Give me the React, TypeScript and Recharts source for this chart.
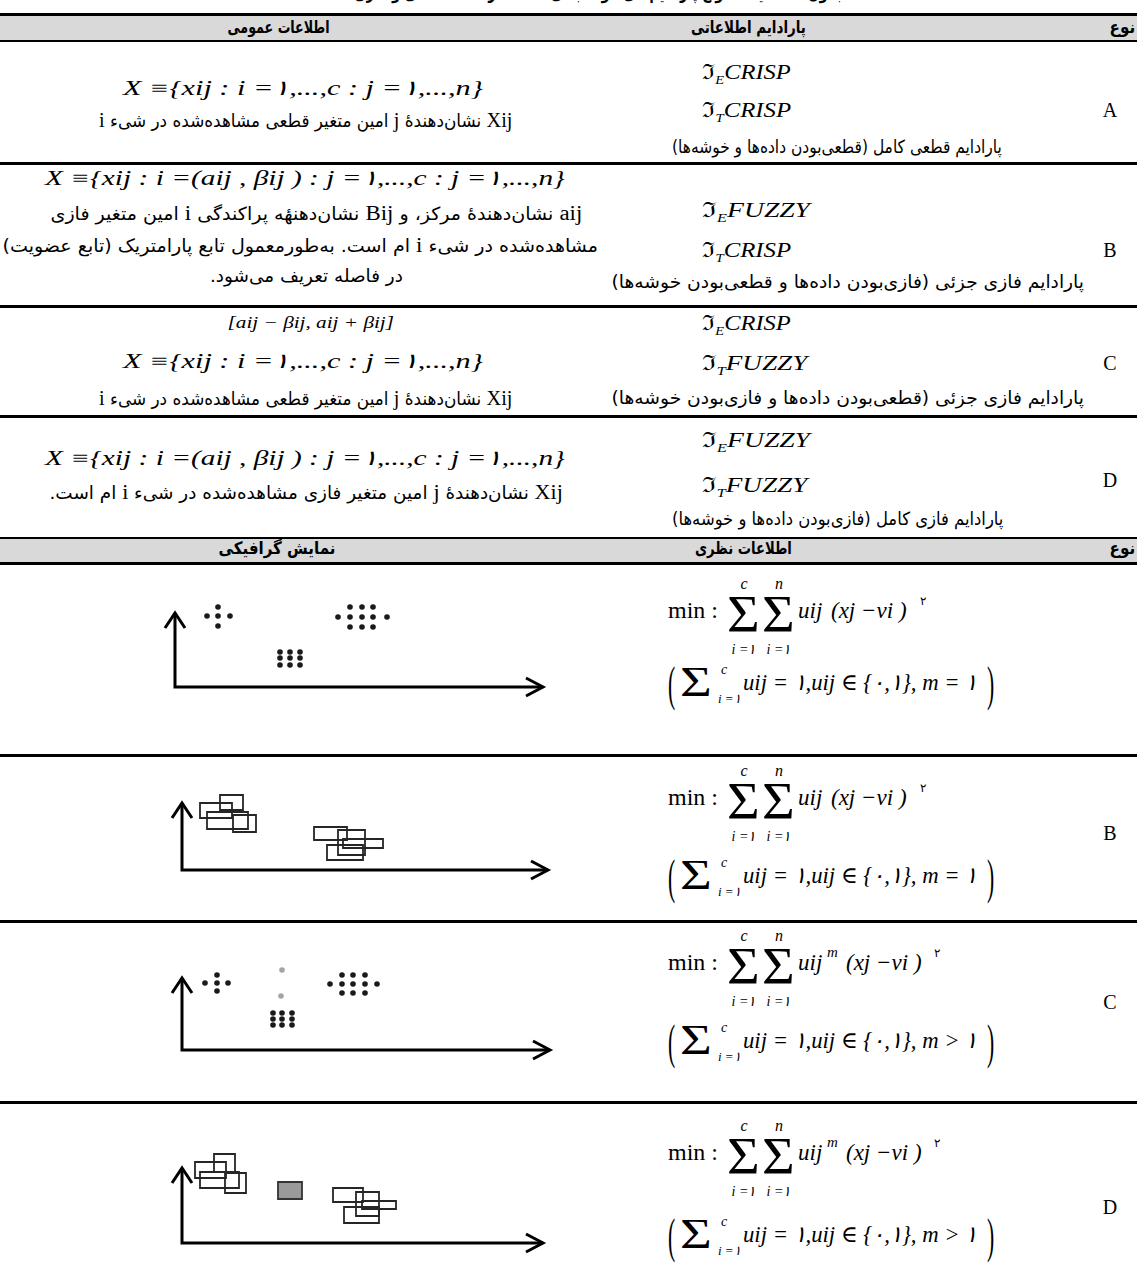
import React, { useLayoutEffect, useRef, useState } from 'react';
import { ScatterChart, Scatter, XAxis, YAxis, ReferenceArea } from 'recharts';

// ---------- data ----------
const titleText = 'جدول ۲- مقایسهٔ انواع پارادایم‌های خوشه‌بندی داده‌ها در حالت قطعی و فازی';
const headerTop = ['نوع', 'پارادایم اطلاعاتی', 'اطلاعات عمومی'];
const headerBottom = ['نوع', 'اطلاعات نظری', 'نمایش گرافیکی'];
const typeLabels = ['A', 'B', 'C', 'D'];
const dataModes = ['CRISP', 'FUZZY', 'CRISP', 'FUZZY'];
const clusterModes = ['CRISP', 'CRISP', 'FUZZY', 'FUZZY'];
const paradigmCaptions = [
  'پارادایم قطعی کامل (قطعی‌بودن داده‌ها و خوشه‌ها)',
  'پارادایم فازی جزئی (فازی‌بودن داده‌ها و قطعی‌بودن خوشه‌ها)',
  'پارادایم فازی جزئی (قطعی‌بودن داده‌ها و فازی‌بودن خوشه‌ها)',
  'پارادایم فازی کامل (فازی‌بودن داده‌ها و خوشه‌ها)',
];
const setCrisp = 'X ≡{xij : i =۱,...,c : j =۱,...,n}';
const setFuzzy = 'X ≡{xij : i =(aij , βij ) : j =۱,...,c : j =۱,...,n}';
const intervalText = '[aij − βij, aij + βij]';
const membershipExp = ['', '', 'm', 'm'];
const membershipRel = ['=', '=', '>', '>'];

type P = { x: number; y: number; head?: string };
type R = { x1: number; x2: number; y1: number; y2: number };

const axisA: P[] = [{ x: 0, y: 74, head: 'up' }, { x: 0, y: 0 }, { x: 368, y: 0, head: 'right' }];
const crossA: P[] = [{ x: 43, y: 80 }, { x: 32, y: 71 }, { x: 43, y: 71 }, { x: 55, y: 71 }, { x: 43, y: 61 }];
const gridA: P[] = [
  { x: 105, y: 35 }, { x: 115, y: 35 }, { x: 125, y: 35 },
  { x: 105, y: 29 }, { x: 115, y: 29 }, { x: 125, y: 29 },
  { x: 105, y: 22 }, { x: 115, y: 22 }, { x: 125, y: 22 },
];
const starA: P[] = [
  { x: 175, y: 80 }, { x: 187, y: 80 }, { x: 198, y: 80 },
  { x: 163, y: 70 }, { x: 175, y: 70 }, { x: 187, y: 70 }, { x: 198, y: 70 }, { x: 212, y: 70 },
  { x: 175, y: 60 }, { x: 187, y: 60 }, { x: 198, y: 60 },
];

const axisB: P[] = [{ x: 0, y: 67, head: 'up' }, { x: 0, y: 0 }, { x: 366, y: 0, head: 'right' }];
const rectsB: R[] = [
  { x1: 18, x2: 50, y1: 52, y2: 67 },
  { x1: 38, x2: 61, y1: 60, y2: 75 },
  { x1: 25, x2: 66, y1: 41, y2: 58 },
  { x1: 51, x2: 74, y1: 38, y2: 55 },
  { x1: 132, x2: 165, y1: 30, y2: 43 },
  { x1: 156, x2: 183, y1: 15, y2: 40 },
  { x1: 161, x2: 201, y1: 22, y2: 31 },
  { x1: 145, x2: 181, y1: 10, y2: 25 },
];

const axisC: P[] = [{ x: 0, y: 72, head: 'up' }, { x: 0, y: 0 }, { x: 368, y: 0, head: 'right' }];
const crossC: P[] = [{ x: 35, y: 75 }, { x: 23, y: 67 }, { x: 35, y: 67 }, { x: 46, y: 67 }, { x: 35, y: 59 }];
const gridC: P[] = [
  { x: 91, y: 37 }, { x: 100, y: 37 }, { x: 110, y: 37 },
  { x: 91, y: 31 }, { x: 100, y: 31 }, { x: 110, y: 31 },
  { x: 91, y: 25 }, { x: 100, y: 25 }, { x: 110, y: 25 },
];
const starC: P[] = [
  { x: 160, y: 75 }, { x: 171, y: 75 }, { x: 183, y: 75 },
  { x: 148, y: 66 }, { x: 160, y: 66 }, { x: 171, y: 66 }, { x: 183, y: 66 }, { x: 195, y: 66 },
  { x: 160, y: 57 }, { x: 171, y: 57 }, { x: 183, y: 57 },
];
const sharedC: P[] = [{ x: 100, y: 80 }, { x: 99, y: 54 }];

const axisD: P[] = [{ x: 0, y: 75, head: 'up' }, { x: 0, y: 0 }, { x: 361, y: 0, head: 'right' }];
const rectsD: R[] = [
  { x1: 13, x2: 44, y1: 65, y2: 81 },
  { x1: 32, x2: 53, y1: 71, y2: 89 },
  { x1: 18, x2: 57, y1: 55, y2: 71 },
  { x1: 43, x2: 64, y1: 50, y2: 70 },
  { x1: 151, x2: 181, y1: 41, y2: 55 },
  { x1: 174, x2: 197, y1: 27, y2: 51 },
  { x1: 180, x2: 214, y1: 34, y2: 42 },
  { x1: 162, x2: 197, y1: 20, y2: 36 },
];
const sharedD: R[] = [{ x1: 96, x2: 120, y1: 44, y2: 61 }];

// ---------- helpers ----------
const PERSIAN = "'DejaVu Sans', sans-serif";
const SERIF = "'Liberation Serif', 'DejaVu Serif', serif";

type TProps = {
  x: number; y: number; size: number; font?: string; italic?: boolean; weight?: number;
  anchor?: 'start' | 'middle' | 'end'; w?: number; sx?: number; dir?: 'ltr' | 'rtl'; children: React.ReactNode;
};
function T({ x, y, size, font = SERIF, italic = false, weight = 400, anchor = 'start', w, sx, dir = 'ltr', children }: TProps) {
  const ref = useRef<HTMLSpanElement>(null);
  const [s, setS] = useState(sx ?? 1);
  useLayoutEffect(() => {
    if (w && ref.current) {
      const n = ref.current.offsetWidth;
      if (n > 0) setS(w / n);
    }
  }, [w]);
  const box: React.CSSProperties = { position: 'absolute', top: y - 0.84 * size, height: size, display: 'flex', alignItems: 'flex-start', pointerEvents: 'none' };
  if (anchor === 'start') { box.left = x; box.justifyContent = 'flex-start'; }
  else if (anchor === 'end') { box.left = x - 1200; box.width = 1200; box.justifyContent = 'flex-end'; }
  else { box.left = x - 600; box.width = 1200; box.justifyContent = 'center'; }
  const origin = anchor === 'start' ? 'left' : anchor === 'end' ? 'right' : 'center';
  return (
    <div style={box}>
      <span ref={ref} dir={dir} style={{ display: 'inline-block', whiteSpace: 'nowrap', fontSize: size, lineHeight: 1, fontFamily: font, fontStyle: italic ? 'italic' : 'normal', fontWeight: weight, color: '#000', transform: `scaleX(${s})`, transformOrigin: origin }}>{children}</span>
    </div>
  );
}

// Persian text line, given visual centre
function Fa({ cx, cy, w, size = 18, bold = false, children }: { cx: number; cy: number; w: number; size?: number; bold?: boolean; children: React.ReactNode }) {
  return <T x={cx} y={cy + 0.3 * size} size={size} font={PERSIAN} weight={bold ? 700 : 400} anchor="middle" w={w} dir="rtl">{children}</T>;
}
const L = ({ children }: { children: React.ReactNode }) => <span style={{ fontFamily: "'Liberation Serif', serif", fontSize: '1.2em' }}>{children}</span>;

function Frak({ x, cy, sub, word, w }: { x: number; cy: number; sub: string; word: string; w: number }) {
  return (
    <T x={x} y={cy + 7} size={22} italic w={w}>
      <span style={{ fontStyle: 'normal', fontFamily: "'DejaVu Serif', serif", fontSize: 21 }}>ℑ</span>
      <span style={{ fontSize: 13, position: 'relative', top: 5 }}>{sub}</span>
      {word}
    </T>
  );
}

function SumFormula({ x0, base, exp }: { x0: number; base: number; exp: string }) {
  return (
    <>
      <T x={x0} y={base} size={24}>min :</T>
      <T x={x0 + 59} y={base + 15} size={52} sx={1.08}>Σ</T>
      <T x={x0 + 94} y={base + 15} size={52} sx={1.08}>Σ</T>
      <T x={x0 + 76} y={base - 29} size={16} italic anchor="middle">c</T>
      <T x={x0 + 111} y={base - 29} size={16} italic anchor="middle">n</T>
      <T x={x0 + 76} y={base + 37} size={14} italic anchor="middle">i =۱</T>
      <T x={x0 + 111} y={base + 37} size={14} italic anchor="middle">i =۱</T>
      <T x={x0 + 130} y={base} size={23} italic>uij</T>
      {exp ? (
        <>
          <T x={x0 + 159} y={base - 12} size={15} italic>{exp}</T>
          <T x={x0 + 178} y={base} size={23} italic>(xj −vi )</T>
          <T x={x0 + 266} y={base - 13} size={12}>۲</T>
        </>
      ) : (
        <>
          <T x={x0 + 163} y={base} size={23} italic>(xj −vi )</T>
          <T x={x0 + 252} y={base - 13} size={12}>۲</T>
        </>
      )}
    </>
  );
}

function ParenFormula({ x0, base, rel }: { x0: number; base: number; rel: string }) {
  return (
    <>
      <T x={x0} y={base + 10} size={48} sx={0.45}>(</T>
      <T x={x0 + 12} y={base + 6} size={42} sx={1.3}>Σ</T>
      <T x={x0 + 53} y={base - 15} size={14} italic>c</T>
      <T x={x0 + 50} y={base + 13} size={13} italic>i =۱</T>
      <T x={x0 + 75} y={base} size={23} italic w={234}>{`uij = ۱,uij ∈ {۰,۱}, m ${rel} ۱`}</T>
      <T x={x0 + 319} y={base + 10} size={48} sx={0.45}>)</T>
    </>
  );
}

function Dot(props: any) {
  const { cx, cy, fill } = props;
  if (cx == null || cy == null) return <g />;
  return <circle cx={cx} cy={cy} r={2.8} fill={fill} />;
}
function Head(props: any) {
  const { cx, cy, payload } = props;
  if (payload?.head === 'up') return <path d={`M${cx - 10},${cy + 15}L${cx},${cy}L${cx + 10},${cy + 15}`} stroke="#000" strokeWidth={3} fill="none" />;
  if (payload?.head === 'right') return <path d={`M${cx - 17},${cy - 9}L${cx},${cy}L${cx - 17},${cy + 9}`} stroke="#000" strokeWidth={3} fill="none" />;
  return <g />;
}

function Panel({ ox, oy, axis, dots = [], grey = [], rects = [], filled = [] }: { ox: number; oy: number; axis: P[]; dots?: P[][]; grey?: P[]; rects?: R[]; filled?: R[] }) {
  return (
    <div style={{ position: 'absolute', left: ox - 20, top: oy - 105 }}>
      <ScatterChart width={420} height={130} margin={{ top: 0, right: 0, bottom: 0, left: 0 }}>
        <XAxis type="number" dataKey="x" domain={[-20, 400]} hide allowDataOverflow />
        <YAxis type="number" dataKey="y" domain={[-25, 105]} hide allowDataOverflow />
        {rects.map((r, i) => (
          <ReferenceArea key={'r' + i} x1={r.x1} x2={r.x2} y1={r.y1} y2={r.y2} fill="none" fillOpacity={0} stroke="#262626" strokeWidth={1.8} />
        ))}
        {filled.map((r, i) => (
          <ReferenceArea key={'f' + i} x1={r.x1} x2={r.x2} y1={r.y1} y2={r.y2} fill="#9a9a9a" fillOpacity={1} stroke="#333" strokeWidth={1.8} />
        ))}
        <Scatter data={axis} line={{ stroke: '#000', strokeWidth: 3 }} shape={Head} isAnimationActive={false} />
        {dots.map((d, i) => (
          <Scatter key={'d' + i} data={d} fill="#1a1a1a" shape={Dot} isAnimationActive={false} />
        ))}
        {grey.length > 0 && <Scatter data={grey} fill="#a5a5a5" shape={Dot} isAnimationActive={false} />}
      </ScatterChart>
    </div>
  );
}

const hLines: [number, number][] = [[13, 3], [40, 2], [162, 3], [305, 3], [415, 3], [537, 2], [562, 3], [754, 3], [920, 3], [1101, 3]];
const bands: [number, number][] = [[16, 40], [539, 562]];

export default function App() {
  return (
    <div style={{ position: 'absolute', left: 0, top: 0, width: 1137, height: 1286, overflow: 'hidden', background: '#fff' }}>
      {bands.map(([a, b], i) => (
        <div key={'b' + i} style={{ position: 'absolute', left: 0, width: 1137, top: a, height: b - a, background: '#d9d9d9' }} />
      ))}
      {hLines.map(([y, t], i) => (
        <div key={'l' + i} style={{ position: 'absolute', left: 0, width: 1137, top: y, height: t, background: '#000' }} />
      ))}

      <Fa cx={600} cy={-6} w={490} size={18} bold>{titleText}</Fa>

      {/* header 1 */}
      <Fa cx={1122} cy={28} w={26} size={17} bold>{headerTop[0]}</Fa>
      <Fa cx={748} cy={28} w={115} size={17} bold>{headerTop[1]}</Fa>
      <Fa cx={279} cy={28} w={102} size={17} bold>{headerTop[2]}</Fa>

      {/* row A */}
      <Frak x={702} cy={72} sub="E" word={dataModes[0]} w={89} />
      <Frak x={702} cy={110} sub="T" word={clusterModes[0]} w={89} />
      <Fa cx={837} cy={148} w={330}>{paradigmCaptions[0]}</Fa>
      <T x={303} y={96} size={21} italic anchor="middle" w={360}>{setCrisp}</T>
      <Fa cx={306} cy={120} w={413}><L>Xij</L> نشان‌دهندهٔ <L>j</L> امین متغیر قطعی مشاهده‌شده در شیء <L>i</L></Fa>
      <T x={1110} y={117} size={20} anchor="middle">{typeLabels[0]}</T>

      {/* row B */}
      <T x={305} y={186} size={21} italic anchor="middle" w={520}>{setFuzzy}</T>
      <Fa cx={316} cy={213} w={532}><L>aij</L> نشان‌دهندهٔ مرکز، و <L>Bij</L> نشان‌دهنهٔه پراکندگی <L>i</L> امین متغیر فازی</Fa>
      <Fa cx={300} cy={245} w={596}>مشاهده‌شده در شیء <L>i</L> ام است. به‌طورمعمول تابع پارامتریک (تابع عضویت)</Fa>
      <Fa cx={306} cy={277} w={193}>در فاصله تعریف می‌شود.</Fa>
      <Frak x={702} cy={210} sub="E" word={dataModes[1]} w={108} />
      <Frak x={702} cy={250} sub="T" word={clusterModes[1]} w={89} />
      <Fa cx={848} cy={283} w={473}>{paradigmCaptions[1]}</Fa>
      <T x={1110} y={257} size={20} anchor="middle">{typeLabels[1]}</T>

      {/* row C */}
      <T x={311} y={328} size={16} italic anchor="middle" w={167}>{intervalText}</T>
      <T x={303} y={369} size={21} italic anchor="middle" w={360}>{setCrisp}</T>
      <Fa cx={306} cy={398} w={413}><L>Xij</L> نشان‌دهندهٔ <L>j</L> امین متغیر قطعی مشاهده‌شده در شیء <L>i</L></Fa>
      <Frak x={702} cy={323} sub="E" word={dataModes[2]} w={89} />
      <Frak x={702} cy={363} sub="T" word={clusterModes[2]} w={105} />
      <Fa cx={848} cy={399} w={473}>{paradigmCaptions[2]}</Fa>
      <T x={1110} y={370} size={20} anchor="middle">{typeLabels[2]}</T>

      {/* row D */}
      <T x={305} y={466} size={21} italic anchor="middle" w={520}>{setFuzzy}</T>
      <Fa cx={306} cy={492} w={513}><L>Xij</L> نشان‌دهندهٔ <L>j</L> امین متغیر فازی مشاهده‌شده در شیء <L>i</L> ام است.</Fa>
      <Frak x={702} cy={440} sub="E" word={dataModes[3]} w={108} />
      <Frak x={702} cy={485} sub="T" word={clusterModes[3]} w={105} />
      <Fa cx={838} cy={520} w={331}>{paradigmCaptions[3]}</Fa>
      <T x={1110} y={487} size={20} anchor="middle">{typeLabels[3]}</T>

      {/* header 2 */}
      <Fa cx={1122} cy={549} w={26} size={17} bold>{headerBottom[0]}</Fa>
      <Fa cx={743} cy={549} w={97} size={17} bold>{headerBottom[1]}</Fa>
      <Fa cx={277} cy={549} w={117} size={17} bold>{headerBottom[2]}</Fa>

      {/* theoretical formulas */}
      <SumFormula x0={668} base={618} exp={membershipExp[0]} />
      <ParenFormula x0={668} base={690} rel={membershipRel[0]} />
      <SumFormula x0={668} base={805} exp={membershipExp[1]} />
      <ParenFormula x0={668} base={883} rel={membershipRel[1]} />
      <T x={1110} y={840} size={20} anchor="middle">{typeLabels[1]}</T>
      <SumFormula x0={668} base={970} exp={membershipExp[2]} />
      <ParenFormula x0={668} base={1048} rel={membershipRel[2]} />
      <T x={1110} y={1009} size={20} anchor="middle">{typeLabels[2]}</T>
      <SumFormula x0={668} base={1160} exp={membershipExp[3]} />
      <ParenFormula x0={668} base={1242} rel={membershipRel[3]} />
      <T x={1110} y={1214} size={20} anchor="middle">{typeLabels[3]}</T>

      {/* graphics */}
      <Panel ox={175} oy={687} axis={axisA} dots={[crossA, gridA, starA]} />
      <Panel ox={182} oy={870} axis={axisB} rects={rectsB} />
      <Panel ox={182} oy={1050} axis={axisC} dots={[crossC, gridC, starC]} grey={sharedC} />
      <Panel ox={182} oy={1243} axis={axisD} rects={rectsD} filled={sharedD} />
    </div>
  );
}
